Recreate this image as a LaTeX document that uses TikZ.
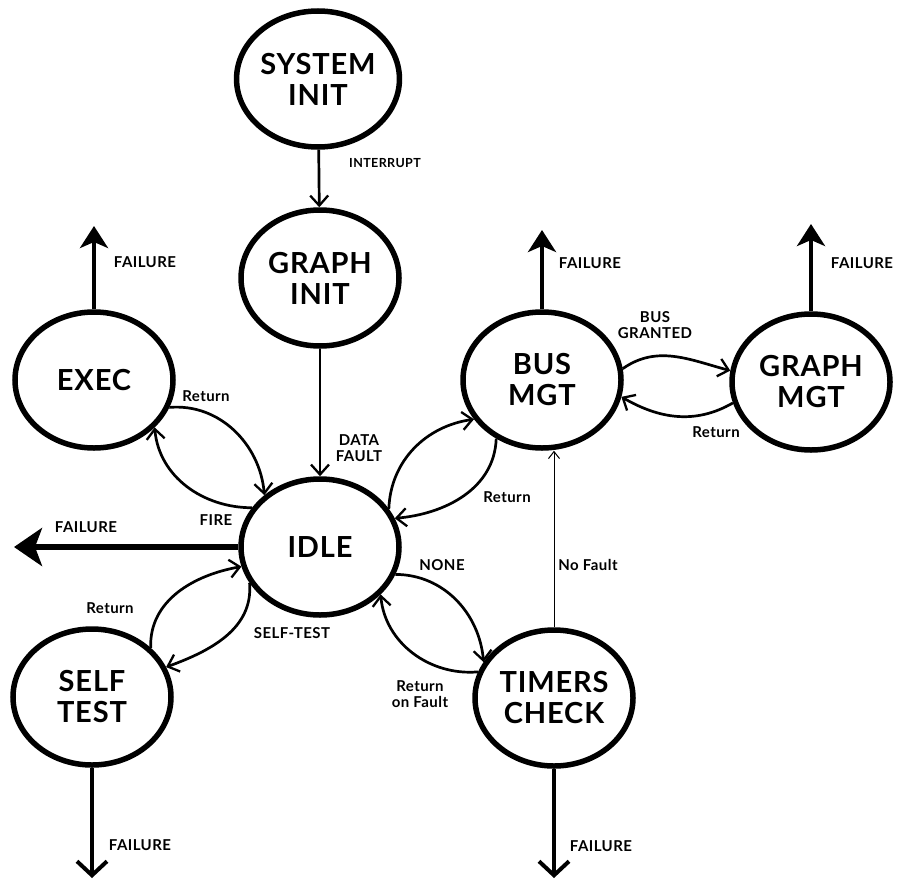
\documentclass[tikz,border=0pt]{standalone}
\usepackage{fontspec}
\setmainfont{Lato}[LetterSpace=3]
\usetikzlibrary{shapes.geometric,arrows.meta}

\begin{document}
\begin{tikzpicture}[x=1pt,y=-1pt,
  state/.style={ellipse,draw,line width=5.5pt,minimum width=158pt,minimum height=136pt,
    inner sep=0pt,align=center,font=\fontsize{29}{31}\selectfont\bfseries},
  lbl/.style={font=\fontsize{15}{16}\selectfont\bfseries,align=center,inner sep=0pt},
  smalllbl/.style={font=\fontsize{12.5}{13}\selectfont\bfseries,align=center,inner sep=0pt},
  flow/.style={line width=2.7pt,-{Straight Barb[length=10pt,width=18pt,line width=2.3pt]}},
  faint/.style={line width=0.9pt,-{Straight Barb[length=7pt,width=11pt,line width=1pt]}},
  fail/.style={line width=4.5pt,-{Stealth[length=22pt,width=28pt,inset=6pt]}},
  failbig/.style={line width=6.5pt,-{Stealth[length=28pt,width=38pt,inset=7pt]}},
  faildown/.style={line width=4.5pt,-{Straight Barb[length=14pt,width=30pt,line width=4pt]}},
]
\useasboundingbox (0,0) rectangle (912,878);

% states
\node[state] (sysinit)  at (318,79)  {SYSTEM\\INIT};
\node[state] (graphinit) at (320,278) {GRAPH\\INIT};
\node[state] (exec)     at (94,380)  {EXEC};
\node[state] (idle)     at (320,547) {IDLE};
\node[state] (busmgt)   at (542,380) {BUS\\MGT};
\node[state] (graphmgt) at (811,382) {GRAPH\\MGT};
\node[state] (selftest) at (92,697)  {SELF\\TEST};
\node[state] (timers)   at (554,698) {TIMERS\\CHECK};

% free ends of the failure exits
\coordinate (execout)  at (94,226);
\coordinate (idleout)  at (14,547);
\coordinate (busout)   at (542,230);
\coordinate (gmgtout)  at (811,224);
\coordinate (stout)    at (92,878);
\coordinate (tcout)    at (554,878);

% initialisation chain
\draw[flow] (sysinit) -- (graphinit);
\draw[flow] (graphinit) -- (idle);

% failure exits
\draw[fail] (exec.north) -- (execout);
\draw[failbig] (idle.west) -- (idleout);
\draw[fail] (busmgt.north) -- (busout);
\draw[fail] (graphmgt.north) -- (gmgtout);
\draw[faildown] (selftest.south) -- (stout);
\draw[faildown] (timers.south) -- (tcout);

% IDLE <-> EXEC
\draw[flow] (exec.-20) to[out=5,in=95] (idle.137);
\draw[flow] (idle.150) to[out=180,in=-85] (exec.-38);

% IDLE <-> BUS MGT
\draw[flow] (idle.29) to[out=88,in=188] (busmgt.-150);
\draw[flow] (busmgt.-128) to[out=-92,in=5] (idle.21);

% BUS MGT <-> GRAPH MGT
\draw[flow] (busmgt.8) to[out=35,in=165] (graphmgt.172);
\draw[flow] (graphmgt.-165) to[out=-150,in=-30] (busmgt.-12);

% IDLE <-> SELF TEST
\draw[flow] (selftest.40) to[out=92,in=-170] (idle.-166);
\draw[flow] (idle.-153) to[out=-85,in=20] (selftest.22);

% IDLE <-> TIMERS CHECK
\draw[flow] (idle.-20) to[out=0,in=95] (timers.153);
\draw[flow] (timers.161) to[out=185,in=-85] (idle.-38);

% TIMERS CHECK -> BUS MGT
\draw[faint] (timers.north) -- (timers.north |- busmgt.south);

% labels
\node[smalllbl] (lint)   at (385,163) {INTERRUPT};
\node[lbl] (ldata)  at (359,448) {DATA\\FAULT};
\node[lbl] (lf1)    at (145,262) {FAILURE};
\node[lbl] (lf2)    at (86,527)  {FAILURE};
\node[lbl] (lf3)    at (590,263) {FAILURE};
\node[lbl] (lf4)    at (862,263) {FAILURE};
\node[lbl] (lf5)    at (140,845) {FAILURE};
\node[lbl] (lf6)    at (601,846) {FAILURE};
\node[lbl] (lret1)  at (206,396) {Return};
\node[lbl] (lfire)  at (216,520) {FIRE};
\node[lbl] (lret2)  at (507,497) {Return};
\node[lbl] (lbus)   at (655,325) {BUS\\GRANTED};
\node[lbl] (lret3)  at (716,432) {Return};
\node[lbl] (lnone)  at (442,565) {NONE};
\node[lbl] (lnof)   at (588,565) {No Fault};
\node[lbl] (lret4)  at (110,608) {Return};
\node[lbl] (lst)    at (292,633) {SELF-TEST};
\node[lbl] (lret5)  at (420,694) {Return\\on Fault};
\end{tikzpicture}
\end{document}
